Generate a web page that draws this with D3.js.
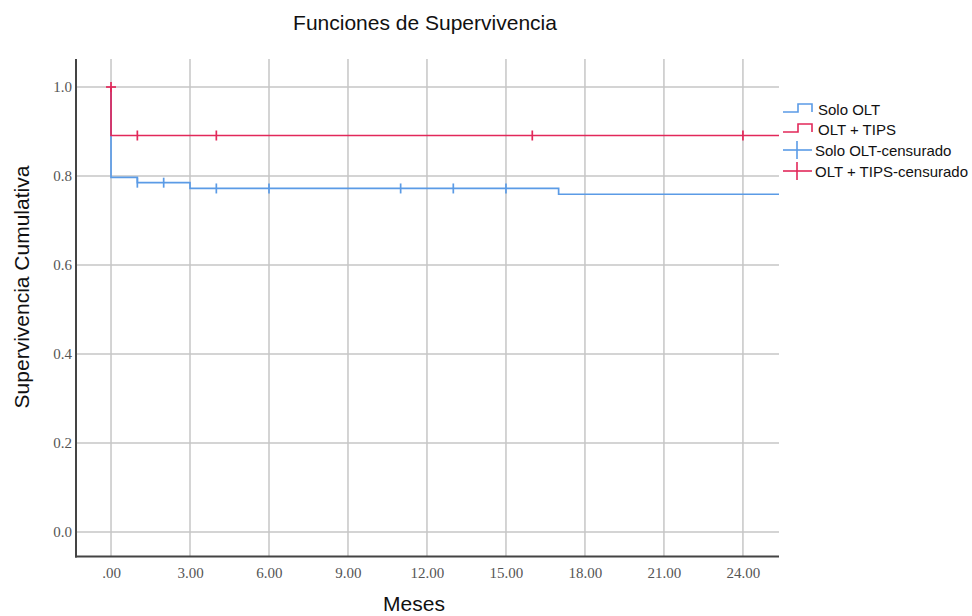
<!DOCTYPE html>
<html><head><meta charset="utf-8">
<script src="https://cdn.jsdelivr.net/npm/d3@7"></script>
<style>body{margin:0;background:#fff}</style>
</head><body>
<svg id="c" width="972" height="616"></svg>
<script>
const xTicks = [0,3,6,9,12,15,18,21,24];
const yTicks = [0,0.2,0.4,0.6,0.8,1.0];
const soloSteps = [[0,1.0],[0,0.797],[1,0.785],[3,0.772],[17,0.759],[25.37,0.759]];
const soloCens = [[1,0.785],[2,0.785],[4,0.772],[6,0.772],[11,0.772],[13,0.772],[15,0.772]];
const tipsSteps = [[0,1.0],[0,0.891],[25.37,0.891]];
const tipsCens = [[0,1.0],[1,0.891],[4,0.891],[16,0.891],[24,0.891]];
const legendLabels = ["Solo OLT","OLT + TIPS","Solo OLT-censurado","OLT + TIPS-censurado"];
const blue = "#5b9be6", red = "#e2285a";

const svg = d3.select("#c");
const x = d3.scaleLinear().domain([-1.33,25.37]).range([76,779]);
const y = d3.scaleLinear().domain([0,1]).range([532,87]);
const yBottom = 556.5, yTop = 59;

// grid
svg.append("g").selectAll("line").data(xTicks).join("line")
  .attr("x1",d=>x(d)).attr("x2",d=>x(d)).attr("y1",yTop).attr("y2",yBottom)
  .attr("stroke","#c6c6c6").attr("stroke-width",1.5);
svg.append("g").selectAll("line").data(yTicks).join("line")
  .attr("x1",76).attr("x2",779).attr("y1",d=>y(d)).attr("y2",d=>y(d))
  .attr("stroke","#c6c6c6").attr("stroke-width",1.5);

// axes
const xa = svg.append("g").attr("transform",`translate(0,${yBottom})`)
  .call(d3.axisBottom(x).tickValues(xTicks).tickSize(0).tickPadding(11)
  .tickFormat(d=> d===0 ? ".00" : d3.format(".2f")(d)));
const ya = svg.append("g").attr("transform",`translate(76,0)`)
  .call(d3.axisLeft(y).tickValues(yTicks).tickSize(0).tickPadding(4).tickFormat(d3.format(".1f")));
[xa,ya].forEach(a=>{
  a.select(".domain").remove();
  a.selectAll("text").attr("font-family","'Liberation Serif','DejaVu Serif',serif")
   .attr("font-size",15).attr("fill","#555");
});
svg.append("line").attr("x1",76).attr("x2",76).attr("y1",yTop).attr("y2",yBottom+1)
  .attr("stroke","#444").attr("stroke-width",2);
svg.append("line").attr("x1",75).attr("x2",779).attr("y1",yBottom).attr("y2",yBottom)
  .attr("stroke","#444").attr("stroke-width",2);

// curves
const line = d3.line().x(d=>x(d[0])).y(d=>y(d[1])).curve(d3.curveStepAfter);
function drawCurve(steps,cens,col){
  svg.append("path").attr("d",line(steps)).attr("fill","none").attr("stroke",col).attr("stroke-width",1.7);
  svg.append("g").selectAll("line").data(cens).join("line")
    .attr("x1",d=>x(d[0])).attr("x2",d=>x(d[0]))
    .attr("y1",d=>y(d[1])-5).attr("y2",d=>y(d[1])+5)
    .attr("stroke",col).attr("stroke-width",1.7);
}
drawCurve(soloSteps,soloCens,blue);
drawCurve(tipsSteps,tipsCens,red);
svg.append("line").attr("x1",x(0)-5).attr("x2",x(0)+5).attr("y1",y(1)).attr("y2",y(1))
  .attr("stroke",red).attr("stroke-width",1.7);

// text
const sans = "'Liberation Sans',Arial,Helvetica,sans-serif";
svg.append("text").attr("x",425).attr("y",30).attr("text-anchor","middle")
  .attr("font-family",sans).attr("font-size",21).attr("fill","#111").text("Funciones de Supervivencia");
svg.append("text").attr("x",414).attr("y",611).attr("text-anchor","middle")
  .attr("font-family",sans).attr("font-size",21).attr("fill","#111").text("Meses");
svg.append("text").attr("transform","translate(29,287) rotate(-90)").attr("text-anchor","middle")
  .attr("font-family",sans).attr("font-size",21).attr("fill","#111").text("Supervivencia Cumulativa");

// legend
const legY = [109,129,150,171];
const cols = [blue,red,blue,red];
legendLabels.forEach((lab,i)=>{
  const g = svg.append("g");
  const cy = legY[i];
  if(i<2){
    g.append("path").attr("d",`M783,${cy+3}H798V${cy-5}H812V${cy+3}`)
      .attr("fill","none").attr("stroke",cols[i]).attr("stroke-width",1.6);
  } else {
    g.append("line").attr("x1",783).attr("x2",812).attr("y1",cy).attr("y2",cy).attr("stroke",cols[i]).attr("stroke-width",1.6);
    g.append("line").attr("x1",797).attr("x2",797).attr("y1",cy-9).attr("y2",cy+9).attr("stroke",cols[i]).attr("stroke-width",1.6);
  }
  g.append("text").attr("x", i<2 ? 818 : 815).attr("y",cy+6).attr("font-family",sans)
    .attr("font-size",15).attr("fill","#111").text(lab);
});
</script>
</body></html>
